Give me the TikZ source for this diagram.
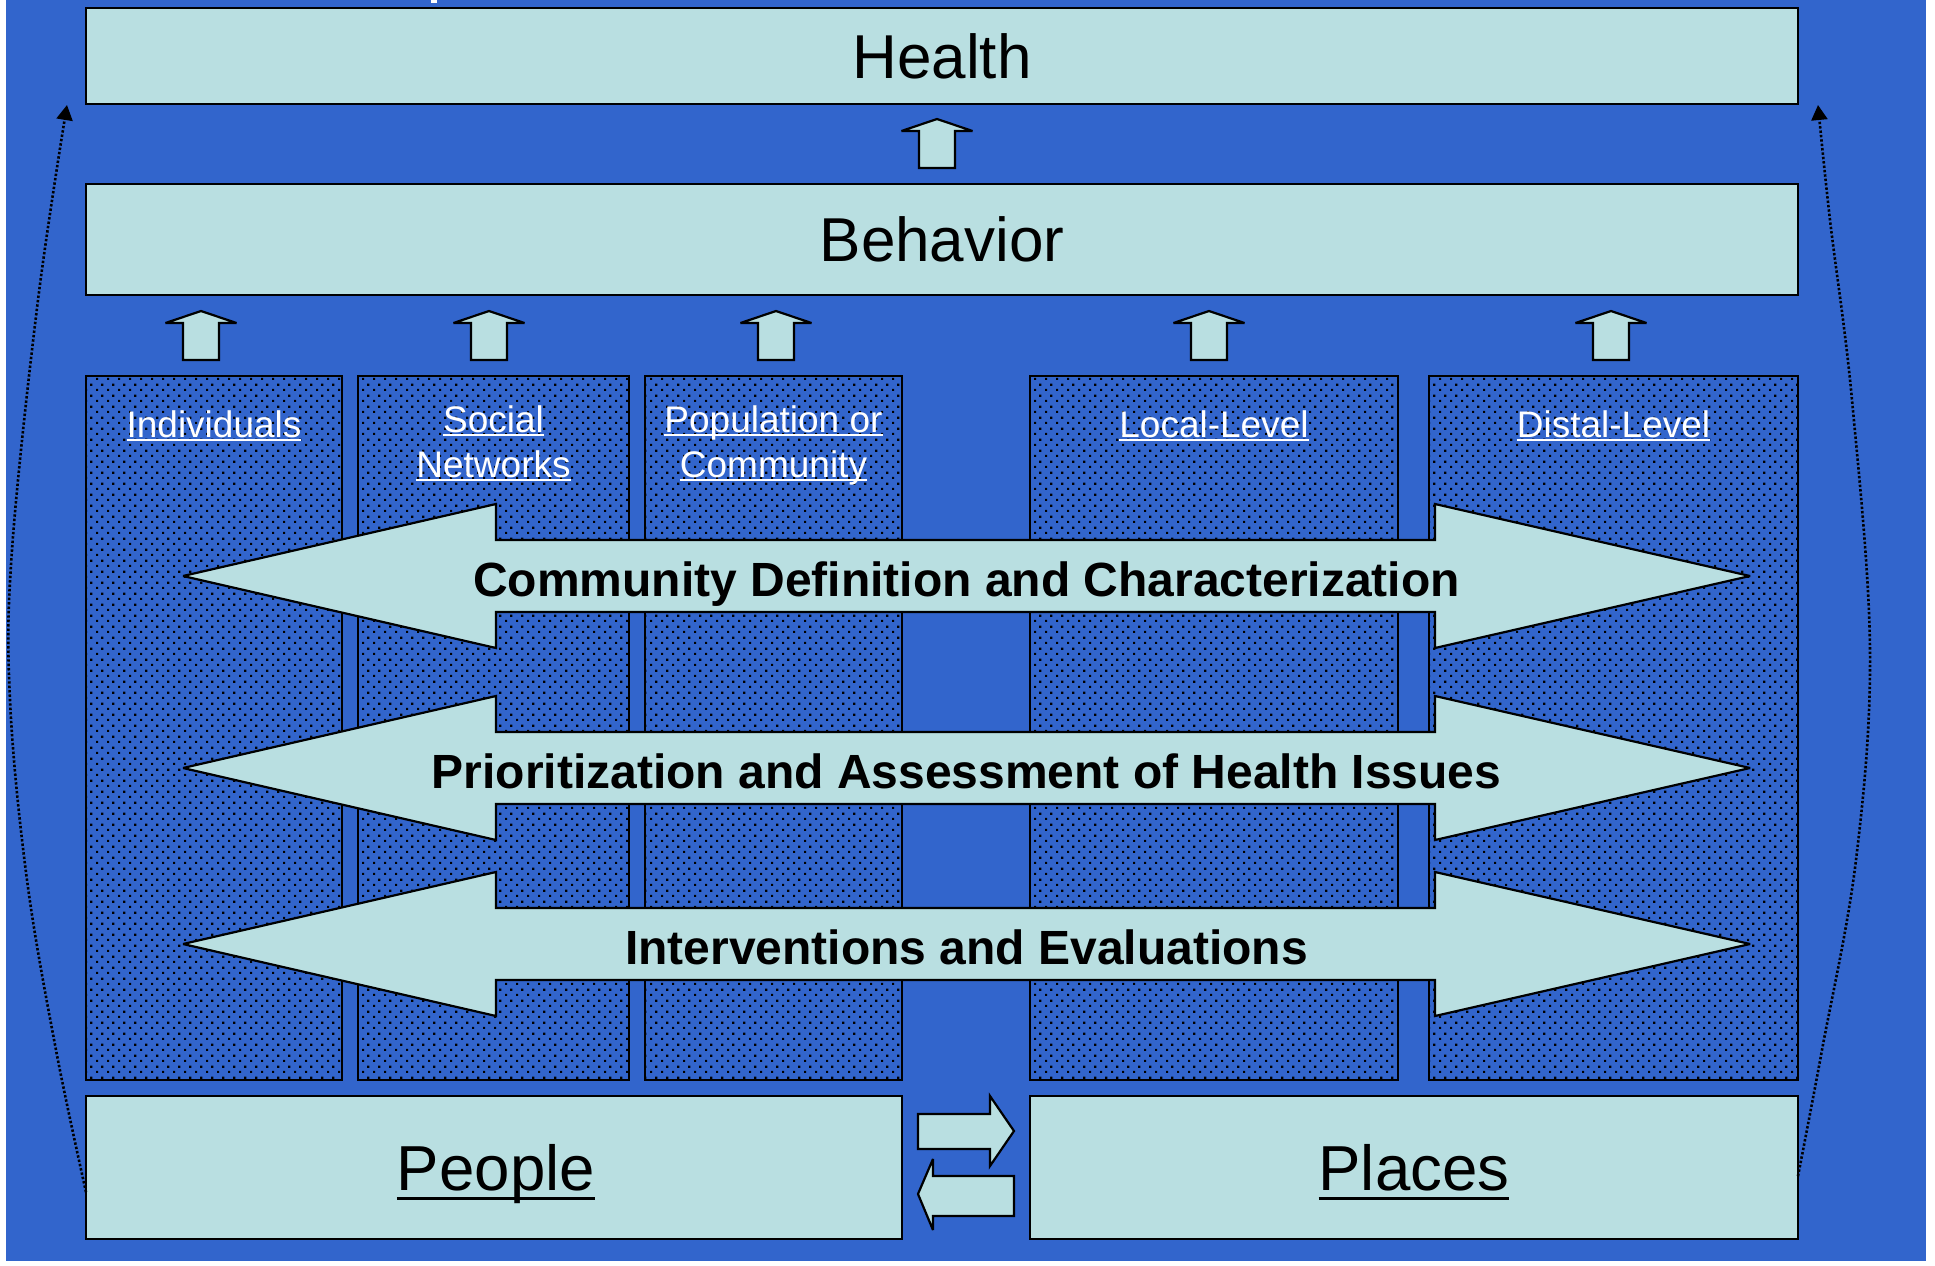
\documentclass[tikz,border=0pt]{standalone}
\usepackage{fontspec}
\setmainfont{Liberation Sans}
\usetikzlibrary{arrows.meta,patterns.meta}
\definecolor{bgblue}{RGB}{50,101,204}
\definecolor{boxfill}{RGB}{185,223,225}
\tikzdeclarepattern{
  name=stipple,
  type=uncolored,
  bounding box={(0pt,0pt) and (5.33pt,5.33pt)},
  tile size={(5.33pt,5.33pt)},
  code={
    \fill (0pt,0pt) rectangle (1.15pt,1.15pt);
    \fill (2.665pt,2.665pt) rectangle (3.815pt,3.815pt);
  }
}
\newcommand\ulx[3]{\setbox0=\hbox{#3}\rlap{\copy0}\rule[-#1]{\wd0}{#2}}
\newcommand\uparr[2]{\draw[blockarrow] (#1,#2) -- ++(35.5,12) -- ++(-17.5,0) -- ++(0,37) -- ++(-36,0) -- ++(0,-37) -- ++(-17.5,0) -- cycle;}
\newcommand\dblarr[1]{\draw[blockarrow] (183,#1) -- ++(313,-72) -- ++(0,36) -- ++(939,0) -- ++(0,-36) -- ++(315,72) -- ++(-315,72) -- ++(0,-36) -- ++(-939,0) -- ++(0,36) -- cycle;}
\begin{document}
\begin{tikzpicture}[x=0.5pt,y=-0.5pt,
  box/.style={draw=black,line width=1pt,fill=boxfill,inner sep=0pt,outer sep=0pt},
  col/.style={draw=black,line width=0.8pt,pattern=stipple,pattern color=black,inner sep=0pt,outer sep=0pt,minimum height=352pt},
  blockarrow/.style={draw=black,line width=1.1pt,fill=boxfill,line join=miter,miter limit=4},
  collabel/.style={text=white,font=\fontsize{18.5}{22}\selectfont,anchor=base,inner sep=0pt},
  biglabel/.style={font=\fontsize{31}{37}\selectfont},
  baselabel/.style={font=\fontsize{31.8}{37}\selectfont,anchor=base,inner sep=0pt},
  arrowlabel/.style={font=\fontsize{24}{28}\selectfont\bfseries,anchor=base,inner sep=0pt},
  feedback/.style={line width=1.3pt,dash pattern=on 1.2pt off 1pt,-{Triangle[length=7.5pt,width=8pt]}}
]
\useasboundingbox (0,0) rectangle (1935,1265);
\fill[white] (0,0) rectangle (1935,1265);
\fill[bgblue] (6,0) rectangle (1926,1261);
\fill[white] (431,0) rectangle (437,3);

% top boxes
\node[box,biglabel,minimum width=856pt,minimum height=48pt] (health) at (942,56) {Health};
\node[box,biglabel,minimum width=856pt,minimum height=55.5pt] (behavior) at (942,239.5) {Behavior};

% up arrows
\uparr{937}{119}
\uparr{201}{311}
\uparr{489}{311}
\uparr{776}{311}
\uparr{1209}{311}
\uparr{1611}{311}

% columns
\node[col,minimum width=128pt] (ind) at (214,728) {};
\node[col,minimum width=135.5pt] (soc) at (493.5,728) {};
\node[col,minimum width=128.5pt] (pop) at (773.5,728) {};
\node[col,minimum width=184pt] (loc) at (1214,728) {};
\node[col,minimum width=184.5pt] (dis) at (1613.5,728) {};

% column labels
\node[collabel] (lind) at (214,437) {\ulx{2pt}{1pt}{Individuals}};
\node[collabel] (lsoc1) at (493.5,432) {\ulx{2pt}{1pt}{Social}};
\node[collabel] (lsoc2) at (493.5,477) {\ulx{2pt}{1pt}{Networks}};
\node[collabel] (lpop1) at (773.5,432) {\ulx{2pt}{1pt}{Population or}};
\node[collabel] (lpop2) at (773.5,477) {\ulx{2pt}{1pt}{Community}};
\node[collabel] (lloc) at (1214,437) {\ulx{2pt}{1pt}{Local-Level}};
\node[collabel] (ldis) at (1613.5,437) {\ulx{2pt}{1pt}{Distal-Level}};

% double arrows
\dblarr{576}
\dblarr{768}
\dblarr{944}
\node[arrowlabel] (a1) at (966.5,596) {Community Definition and Characterization};
\node[arrowlabel] (a2) at (966.5,788) {Prioritization and Assessment of Health Issues};
\node[arrowlabel] (a3) at (966.5,964) {Interventions and Evaluations};

% bottom boxes
\node[box,minimum width=408pt,minimum height=71.5pt] (people) at (494,1167.5) {};
\node[box,minimum width=384pt,minimum height=71.5pt] (places) at (1414,1167.5) {};
\node[baselabel] (peopletxt) at (496,1190) {\ulx{5pt}{1.4pt}{People}};
\node[baselabel] (placestxt) at (1414,1190) {\ulx{5pt}{1.4pt}{Places}};

% exchange arrows
\draw[blockarrow] (918,1114) -- (990,1114) -- (990,1096) -- (1014,1131) -- (990,1166) -- (990,1149) -- (918,1149) -- cycle;
\draw[blockarrow] (918,1194) -- (933,1159) -- (933,1176) -- (1014,1176) -- (1014,1216) -- (933,1216) -- (933,1230) -- cycle;

% feedback curves
\coordinate (lstart) at (86,1192);
\coordinate (ltip) at (67,105);
\coordinate (rstart) at (1798,1176);
\coordinate (rtip) at (1818,105);
\draw[feedback] plot[smooth,tension=0.6] coordinates {(lstart) (56,1050) (27,880) (10,700) (12,550) (38,300) (ltip)};
\draw[feedback] plot[smooth,tension=0.6] coordinates {(rstart) (1822,1050) (1856,860) (1870,650) (1852,400) (1830,220) (rtip)};
\end{tikzpicture}
\end{document}
